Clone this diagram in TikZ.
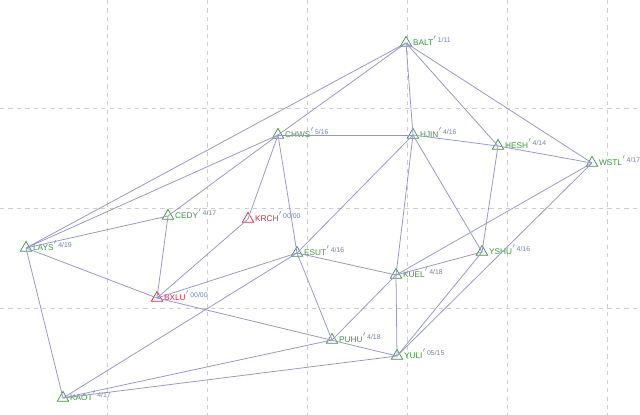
\documentclass[tikz,border=0pt]{standalone}
\usepackage{fontspec}
\setmainfont{Liberation Sans}
\usepackage{tikz}
\usetikzlibrary{positioning, shapes.geometric}
\definecolor{linec}{RGB}{150,150,200}
\definecolor{stnc}{RGB}{60,150,60}
\definecolor{badc}{RGB}{215,40,60}
\definecolor{numc}{RGB}{110,130,170}
\definecolor{gridc}{RGB}{205,205,205}
\tikzstyle{stn} = [regular polygon, regular polygon sides=3, minimum size=0.33cm, inner sep=0pt, draw=stnc, line width=0.5pt]
\tikzstyle{bad} = [stn, draw=badc]
\tikzstyle{lbl} = [inner sep=0pt, font=\fontsize{5.9}{7}\selectfont, text=stnc, anchor=base west, xshift=0.3pt, yshift=0.8pt]
\tikzstyle{badlbl} = [lbl, text=badc]
\tikzstyle{link} = [linec, line width=0.55pt]
\newcommand{\nums}[1]{\raisebox{2.2pt}{\color{numc}\fontsize{4.9}{6}\selectfont$'$\hspace{0.6pt}#1}}
\begin{document}
\begin{tikzpicture}[x=0.025cm, y=-0.025cm]
\useasboundingbox (0,0) rectangle (640,415);
% grid
\foreach \gx in {107,207,307,407,507,607}
  \draw [gridc, dashed, line width=0.4pt] (\gx,0) -- (\gx,415);
\foreach \gy in {108,208,308}
  \draw [gridc, dashed, line width=0.4pt] (0,\gy) -- (640,\gy);

\node (balt) [stn] at (406,43) {};
\node (chws) [stn] at (278,135) {};
\node (hjin) [stn] at (413,135) {};
\node (hesh) [stn] at (498,146) {};
\node (wstl) [stn] at (592,163) {};
\node (cedy) [stn] at (168,216) {};
\node (krch) [bad] at (248,219) {};
\node (lays) [stn] at (26,248) {};
\node (esut) [stn] at (297,253) {};
\node (yshu) [stn] at (482,252) {};
\node (kuel) [stn] at (396,275) {};
\node (bxlu) [bad] at (157,298) {};
\node (puhu) [stn] at (332,340) {};
\node (yuli) [stn] at (397,356) {};
\node (kaot) [stn] at (63,398) {};

\node (balt-t) [lbl] at (balt.corner 3) {BALT\nums{1/11}};
\node (chws-t) [lbl] at (chws.corner 3) {CHWS\nums{5/16}};
\node (hjin-t) [lbl] at (hjin.corner 3) {HJIN\nums{4/16}};
\node (hesh-t) [lbl] at (hesh.corner 3) {HESH\nums{4/14}};
\node (wstl-t) [lbl] at (wstl.corner 3) {WSTL\nums{4/17}};
\node (cedy-t) [lbl] at (cedy.corner 3) {CEDY\nums{4/17}};
\node (krch-t) [badlbl] at (krch.corner 3) {KRCH\nums{00/00}};
\node (lays-t) [lbl] at (lays.corner 3) {LAYS\nums{4/19}};
\node (esut-t) [lbl] at (esut.corner 3) {ESUT\nums{4/16}};
\node (yshu-t) [lbl] at (yshu.corner 3) {YSHU\nums{4/16}};
\node (kuel-t) [lbl] at (kuel.corner 3) {KUEL\nums{4/18}};
\node (bxlu-t) [badlbl] at (bxlu.corner 3) {BXLU\nums{00/00}};
\node (puhu-t) [lbl] at (puhu.corner 3) {PUHU\nums{4/18}};
\node (yuli-t) [lbl] at (yuli.corner 3) {YULI\nums{05/15}};
\node (kaot-t) [lbl] at (kaot.corner 3) {KAOT\nums{4/17}};

% baselines
\draw [link] (balt.center) -- (lays.center);
\draw [link] (balt.center) -- (chws.center);
\draw [link] (balt.center) -- (hjin.center);
\draw [link] (balt.center) -- (hesh.center);
\draw [link] (balt.center) -- (wstl.center);
\draw [link] (chws.center) -- (lays.center);
\draw [link] (chws.center) -- (hjin.center);
\draw [link] (chws.center) -- (cedy.center);
\draw [link] (chws.center) -- (krch.center);
\draw [link] (chws.center) -- (esut.center);
\draw [link] (hjin.center) -- (hesh.center);
\draw [link] (hjin.center) -- (esut.center);
\draw [link] (hjin.center) -- (kuel.center);
\draw [link] (hjin.center) -- (yshu.center);
\draw [link] (hesh.center) -- (yshu.center);
\draw [link] (hesh.center) -- (wstl.center);
\draw [link] (wstl.center) -- (kuel.center);
\draw [link] (wstl.center) -- (yuli.center);
\draw [link] (lays.center) -- (cedy.center);
\draw [link] (lays.center) -- (bxlu.center);
\draw [link] (lays.center) -- (kaot.center);
\draw [link] (cedy.center) -- (bxlu.center);
\draw [link] (krch.center) -- (bxlu.center);
\draw [link] (bxlu.center) -- (esut.center);
\draw [link] (bxlu.center) -- (yuli.center);
\draw [link] (kaot.center) -- (esut.center);
\draw [link] (kaot.center) -- (puhu.center);
\draw [link] (kaot.center) -- (yuli.center);
\draw [link] (esut.center) -- (kuel.center);
\draw [link] (esut.center) -- (puhu.center);
\draw [link] (kuel.center) -- (yshu.center);
\draw [link] (kuel.center) -- (puhu.center);
\draw [link] (kuel.center) -- (yuli.center);
\draw [link] (yshu.center) -- (yuli.center);
\end{tikzpicture}
\end{document}
